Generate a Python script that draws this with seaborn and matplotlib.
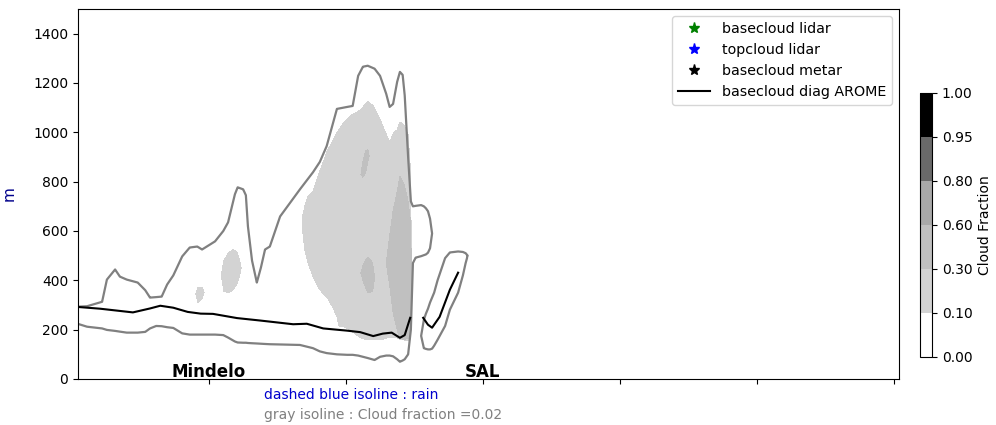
import matplotlib
matplotlib.use("Agg")
import matplotlib.pyplot as plt
from matplotlib.colors import ListedColormap, BoundaryNorm
from matplotlib.cm import ScalarMappable
from matplotlib.lines import Line2D
import numpy as np
import seaborn as sns

# cloud layers read from the section: (x gridpoint, [(bottom m, top m), ...])
# isoline cloud fraction = 0.02
outer_cf002 = [
    (-0.3, []), (0.7, [(225, 293)]), (2.2, [(212, 295)]), (4.4, [(205, 313)]),
    (5.1, [(199, 403)]), (6.3, [(195, 444)]), (7.0, [(192, 415)]), (8.0, [(188, 403)]),
    (9.6, [(188, 391)]), (10.7, [(191, 360)]), (11.4, [(205, 330)]), (12.3, [(215, 332)]),
    (13.1, [(214, 334)]), (13.9, [(210, 383)]), (14.8, [(207, 420)]), (16.1, [(185, 497)]),
    (17.2, [(180, 533)]), (18.3, [(180, 537)]), (19.0, [(180, 525)]), (20.9, [(180, 558)]),
    (22.1, [(178, 600)]), (22.8, [(168, 635)]), (23.8, [(152, 749)]), (24.2, [(148, 777)]),
    (25.0, [(147, 769)]), (25.4, [(147, 745)]), (25.7, [(146, 619)]), (26.3, [(145, 480)]),
    (27.0, [(144, 391)]), (27.6, [(143, 452)]), (28.2, [(142, 525)]), (28.9, [(141, 537)]),
    (30.4, [(140, 659)]), (33.3, [(138, 769)]), (35.2, [(125, 838)]), (36.2, [(112, 880)]),
    (37.2, [(105, 944)]), (38.7, [(100, 1095)]), (40.2, [(98, 1103)]), (41.0, [(98, 1107)]),
    (41.8, [(95, 1229)]), (42.5, [(90, 1266)]), (43.2, [(85, 1270)]), (44.2, [(77, 1258)]),
    (45.0, [(90, 1229)]), (45.9, [(95, 1156)]), (46.4, [(95, 1103)]), (46.9, [(92, 1115)]),
    (47.5, [(80, 1205)]), (47.9, [(70, 1245)]), (48.3, [(75, 1233)]), (48.6, [(80, 1150)]),
    (49.1, [(100, 900)]), (49.5, [(200, 720)]), (49.8, [(470, 700)]), (50.2, [(492, 702)]),
    (51.0, [(498, 705), (175, 175)]), (51.4, [(502, 700), (125, 240)]),
    (51.7, [(505, 692), (122, 265)]), (52.0, [(512, 680), (120, 285)]),
    (52.3, [(530, 650), (120, 310)]), (52.6, [(590, 590), (123, 330)]),
    (52.9, [(135, 350)]), (53.4, [(159, 400)]),
    (54.5, [(215, 490)]), (55.2, [(281, 513)]), (56.4, [(350, 517)]), (57.1, [(420, 515)]),
    (57.5, [(470, 510)]), (57.8, [(500, 500)]), (58.4, []),
]

# cloud fraction 0.10 - 0.30
cf_010 = [
    (17.8, []), (18.1, [(345, 345)]), (18.4, [(310, 372)]), (19.0, [(325, 372)]),
    (19.3, [(350, 350)]), (20.5, []), (21.8, [(420, 420)]), (22.2, [(355, 480)]),
    (22.8, [(350, 510)]), (23.5, [(360, 525)]), (24.1, [(385, 515)]), (24.5, [(420, 480)]),
    (24.7, [(450, 450)]), (30.0, []), (33.6, [(640, 640)]), (33.7, [(600, 660)]),
    (34.0, [(525, 700)]), (34.5, [(470, 741)]), (35.2, [(415, 761)]), (35.9, [(375, 820)]),
    (36.7, [(345, 879)]), (37.2, [(334, 920)]), (38.0, [(295, 960)]), (38.7, [(255, 1001)]),
    (39.0, [(215, 1010)]), (39.7, [(212, 1040)]), (40.6, [(199, 1066)]), (41.5, [(180, 1080)]),
    (42.3, [(165, 1095)]), (43.2, [(159, 1127)]), (44.0, [(159, 1107)]), (45.0, [(159, 1054)]),
    (45.7, [(163, 1005)]), (46.4, [(170, 960)]), (47.0, [(170, 1000)]), (47.5, [(168, 1010)]),
    (47.9, [(160, 1042)]), (48.5, [(158, 1030)]), (49.1, [(158, 990)]), (49.4, [(160, 863)]),
    (49.6, [(500, 500)]), (49.8, []),
]

# cloud fraction 0.30 - 0.60
cf_030 = [
    (41.9, []), (42.2, [(830, 830), (430, 430)]), (42.5, [(818, 880), (400, 460)]),
    (42.9, [(840, 925), (370, 485)]), (43.2, [(880, 930), (350, 492)]),
    (43.4, [(905, 905), (350, 490)]), (43.9, [(355, 470)]), (44.2, [(410, 410)]),
    (45.0, []), (45.9, [(470, 470)]), (46.4, [(380, 580)]), (46.9, [(270, 680)]),
    (47.5, [(200, 760)]), (47.9, [(165, 822)]), (48.5, [(160, 790)]), (49.1, [(165, 720)]),
    (49.4, [(170, 650)]), (49.6, [(450, 450)]), (49.8, []),
]

# basecloud diag AROME (two segments)
base_x1 = [0.9, 4.1, 8.9, 11.4, 12.9, 14.8, 16.9, 18.8, 20.6, 24.1, 27.5, 32.3, 34.3,
           36.7, 40.2, 42.1, 44.0, 45.4, 46.7, 47.9, 48.6, 49.4]
base_z1 = [292, 285, 270, 286, 297, 289, 272, 265, 264, 247, 237, 222, 224,
           205, 196, 190, 174, 184, 188, 167, 178, 248]
base_x2 = [51.3, 52.0, 52.6, 53.7, 55.2, 56.4]
base_z2 = [248, 220, 208, 252, 362, 431]

cf_bounds = [0.0, 0.10, 0.30, 0.60, 0.80, 0.95, 1.00]
cf_colors = ["white", "lightgray", "silver", "darkgray", "dimgray", "black"]

stations = {"Mindelo": 20, "SAL": 60}

z = np.arange(0, 1501, 2.0)


def layer_field(table):
    # signed distance to the layer edges, >0 inside the cloud
    xs = np.array([c[0] for c in table])
    g = np.full((z.size, xs.size), -1000.0)
    for j, (_, ivs) in enumerate(table):
        for b, t in ivs:
            g[:, j] = np.maximum(g[:, j], np.minimum(z - b, t - z))
    return xs, g


fig = plt.figure(figsize=(9.96, 4.25), dpi=100)
ax = fig.add_axes([78 / 996, 46 / 425, 821 / 996, 370 / 425])
cax = fig.add_axes([920 / 996, 68 / 425, 12 / 996, 264 / 425])

for table, col in [(cf_010, cf_colors[1]), (cf_030, cf_colors[2])]:
    xs, g = layer_field(table)
    ax.contourf(xs, z, g, levels=[0, 1e4], colors=[col])

xs, g = layer_field(outer_cf002)
ax.contour(xs, z, g, levels=[0], colors="gray", linewidths=1.6)

sns.lineplot(x=base_x1, y=base_z1, color="black", lw=1.5, ax=ax)
sns.lineplot(x=base_x2, y=base_z2, color="black", lw=1.5, ax=ax)

for name, xpos in stations.items():
    ax.text(xpos, 8, name, ha="center", va="baseline", fontsize=12, fontweight="bold")

ax.set_xlim(0.88, 120.8)
ax.set_ylim(0, 1500)
ax.set_xticks([20, 40, 60, 80, 100, 120])
ax.set_xticklabels([])
ax.set_yticks(range(0, 1401, 200))
ax.set_xlabel("")
ax.set_ylabel("m", color="darkblue", fontsize=11)
ax.yaxis.set_label_coords(-0.075, 0.5)
ax.set_title("Cloud fraction AROME 20220914 (00UTC)", color="navy", fontsize=12, pad=8.5)

handles = [
    Line2D([], [], marker="*", color="green", ls="", markersize=8),
    Line2D([], [], marker="*", color="blue", ls="", markersize=8),
    Line2D([], [], marker="*", color="black", ls="", markersize=8),
    Line2D([], [], color="black", lw=1.5),
]
labels = ["basecloud lidar", "topcloud lidar", "basecloud metar", "basecloud diag AROME"]
ax.legend(handles, labels, loc="upper right", fontsize=10.3, handlelength=2.3)

norm = BoundaryNorm(cf_bounds, len(cf_colors))
cb = fig.colorbar(ScalarMappable(norm=norm, cmap=ListedColormap(cf_colors)), cax=cax,
                  ticks=cf_bounds, format="%.2f")
cb.set_label("Cloud Fraction")

fig.text(264 / 996, 1 - 395 / 425, "dashed blue isoline : rain", color="mediumblue",
         fontsize=10, va="center")
fig.text(264 / 996, 1 - 415 / 425, "gray isoline : Cloud fraction =0.02", color="gray",
         fontsize=10, va="center")

fig.savefig("out.png", dpi=100)
